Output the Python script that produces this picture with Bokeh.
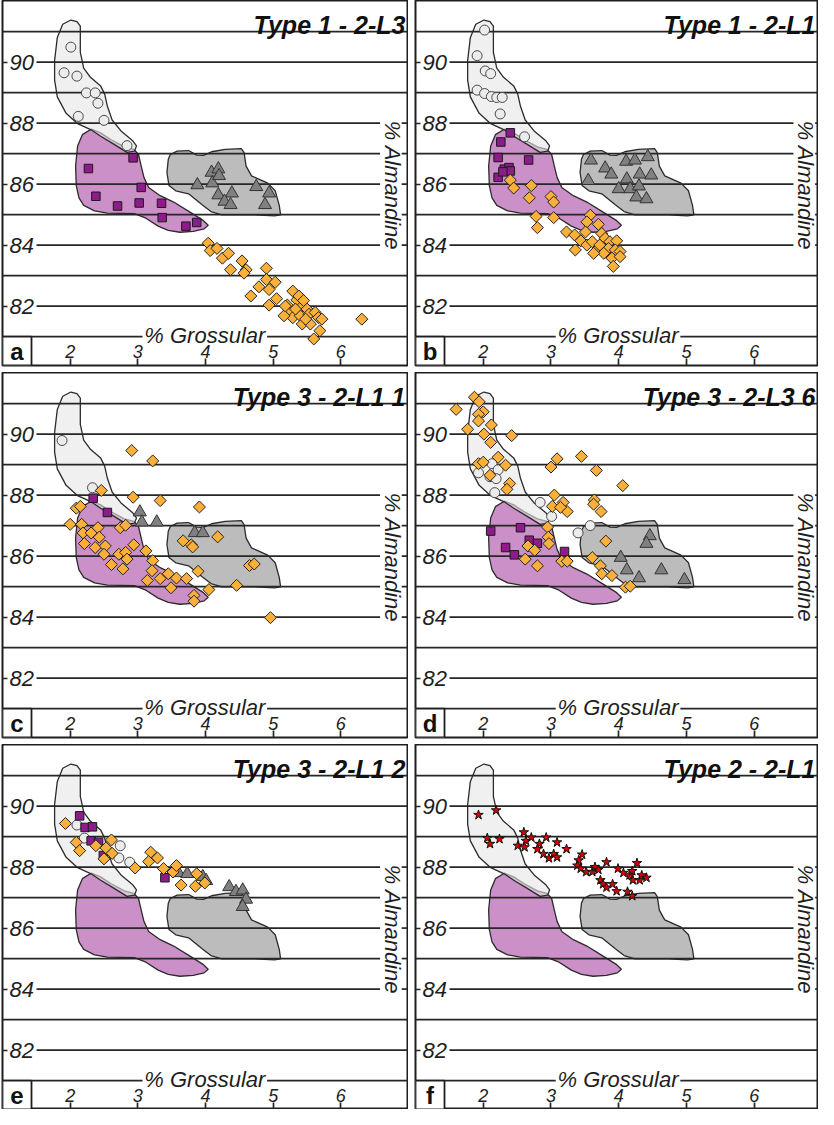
import numpy as np
from bokeh.plotting import figure
from bokeh.models import LinearAxis, FixedTicker, Range1d
from bokeh.layouts import column, row
from bokeh.core.properties import value
from bokeh.embed import file_html
from bokeh.resources import INLINE

FONT = "Liberation Sans"

# ---------------- axis / tick data ----------------
x_ticks = [2, 3, 4, 5, 6]
y_ticks = [82, 84, 86, 88, 90]
grid_levels = [81, 82, 83, 84, 85, 86, 87, 88, 89, 90, 91]
x_label = "% Grossular"
y_label = "% Almandine"

# ---------------- reference fields (same in every panel) ----------------
white_field = [(2.01, 91.38), (2.10, 91.33), (2.15, 91.18), (2.15, 90.32), (2.20, 89.80),
               (2.30, 89.50), (2.45, 89.22), (2.51, 88.95), (2.55, 88.55), (2.62, 88.10),
               (2.76, 87.72), (2.92, 87.43), (2.98, 87.25), (2.95, 87.08), (2.84, 87.04),
               (2.65, 87.30), (2.45, 87.57), (2.31, 87.78), (2.11, 87.98), (1.94, 88.32),
               (1.81, 88.86), (1.77, 89.41), (1.77, 90.05), (1.81, 90.81), (1.89, 91.24)]
purple_field = [(2.31, 87.80), (2.18, 87.62), (2.11, 87.25), (2.08, 86.60), (2.09, 85.95),
                (2.13, 85.55), (2.20, 85.30), (2.36, 85.12), (2.55, 85.05), (2.95, 85.03),
                (3.12, 84.88), (3.30, 84.62), (3.45, 84.48), (3.62, 84.42), (3.82, 84.45),
                (3.98, 84.53), (4.04, 84.65), (3.97, 84.80), (3.77, 85.08), (3.53, 85.41),
                (3.33, 85.62), (3.16, 85.89), (3.09, 86.22), (3.05, 86.59), (3.01, 86.97),
                (2.94, 87.14), (2.80, 87.22), (2.60, 87.46), (2.45, 87.68)]
gray_field = [(3.48, 86.97), (3.58, 87.08), (3.75, 87.10), (3.87, 86.95), (3.97, 86.94),
              (4.09, 87.06), (4.29, 87.14), (4.53, 87.16), (4.57, 87.03), (4.60, 86.59),
              (4.68, 86.27), (4.92, 86.03), (5.03, 85.78), (5.09, 85.30), (5.11, 84.99),
              (5.02, 84.96), (4.72, 84.99), (4.24, 84.99), (4.08, 85.10), (3.95, 85.32),
              (3.75, 85.68), (3.56, 85.78), (3.46, 85.95), (3.43, 86.38), (3.45, 86.81)]

# ---------------- panel a : Type 1 - 2-L3 ----------------
a_circles = [(2.01, 90.49), (1.91, 89.65), (2.10, 89.54), (2.24, 88.99), (2.37, 88.99),
             (2.41, 88.65), (2.12, 88.22), (2.50, 88.09), (2.84, 87.26)]
a_squares = [(2.27, 86.51), (2.93, 86.86), (3.05, 85.89), (2.38, 85.60), (2.70, 85.28),
             (3.02, 85.38), (3.35, 85.37), (3.36, 84.90), (3.71, 84.62), (3.87, 84.74)]
a_triangles = [(4.09, 86.38), (4.19, 86.49), (3.88, 85.97), (4.10, 86.03), (4.20, 86.27),
               (4.19, 85.64), (4.39, 85.70), (4.28, 85.43), (4.37, 85.32), (4.75, 85.91),
               (4.94, 85.70), (4.88, 85.32)]
a_diamonds = [(4.04, 84.06), (4.07, 83.82), (4.17, 83.89), (4.25, 83.57), (4.34, 83.73),
              (4.37, 83.19), (4.54, 83.48), (4.60, 83.19), (4.57, 83.08), (4.90, 83.24),
              (4.79, 82.63), (4.90, 82.87), (5.03, 82.78), (4.94, 82.54), (4.67, 82.33),
              (4.94, 82.03), (5.05, 82.24), (5.21, 82.03), (5.29, 82.49), (5.35, 82.20),
              (5.23, 81.79), (5.43, 82.00), (5.50, 81.90), (5.29, 81.62), (5.40, 81.68),
              (5.53, 81.73), (5.62, 81.79), (5.67, 81.62), (5.72, 81.57), (5.43, 81.41),
              (5.55, 81.41), (5.16, 81.68), (5.69, 81.19), (5.60, 80.92), (5.48, 81.57),
              (5.33, 81.90), (5.18, 82.00), (5.38, 82.33), (5.45, 82.18), (6.31, 81.57)]

# ---------------- panel b : Type 1 - 2-L1 ----------------
b_circles = [(2.02, 91.05), (1.91, 90.21), (2.03, 89.71), (2.11, 89.62), (1.91, 89.08),
             (2.02, 88.97), (2.12, 88.87), (2.20, 88.84), (2.28, 88.84), (2.25, 88.30),
             (2.61, 87.55)]
b_squares = [(2.40, 87.68), (2.26, 87.38), (2.22, 86.87), (2.67, 86.79), (2.31, 86.49),
             (2.38, 86.54), (2.40, 86.43), (2.22, 86.22), (2.29, 86.40)]
b_triangles = [(3.59, 86.78), (3.80, 86.52), (3.89, 86.32), (4.11, 86.74), (4.24, 86.78),
               (4.43, 86.89), (3.55, 86.11), (4.12, 86.16), (4.31, 86.32), (4.48, 86.29),
               (4.00, 85.84), (4.17, 85.84), (4.30, 85.93), (4.26, 85.57), (4.41, 85.51)]
b_diamonds = [(2.40, 86.13), (2.45, 85.87), (2.71, 85.95), (2.68, 85.55), (3.00, 85.59),
              (3.04, 85.41), (2.78, 84.94), (3.04, 84.90), (2.80, 84.57), (3.23, 84.43),
              (3.35, 84.33), (3.58, 84.98), (3.53, 84.76), (3.70, 84.68), (3.51, 84.43),
              (3.44, 84.14), (3.75, 84.38), (3.80, 84.22), (3.36, 83.84), (3.53, 84.00),
              (3.61, 84.11), (3.68, 83.84), (3.87, 84.11), (3.97, 84.14), (3.85, 83.89),
              (3.95, 83.84), (4.02, 83.79), (3.90, 83.57), (3.92, 83.30), (4.02, 83.62),
              (3.78, 83.73), (3.63, 83.73), (3.72, 84.00)]

# ---------------- panel c : Type 3 - 2-L1 1 ----------------
c_circles = [(1.88, 89.79), (2.33, 88.24)]
c_squares = [(2.34, 87.90), (2.55, 87.43)]
c_triangles = [(3.03, 87.44), (3.06, 87.11), (3.28, 87.11), (3.84, 86.76), (3.96, 86.76)]
c_diamonds = [(2.91, 89.46), (3.22, 89.12), (2.46, 88.15), (2.93, 87.93), (3.33, 87.82),
              (3.91, 87.61), (2.09, 87.57), (2.15, 87.63), (2.00, 87.04), (2.17, 87.04),
              (2.19, 86.76), (2.31, 86.76), (2.41, 86.93), (2.74, 86.93), (2.82, 87.01),
              (2.21, 86.41), (2.37, 86.28), (2.52, 86.33), (2.50, 86.06), (2.72, 86.06),
              (2.82, 86.12), (2.94, 86.37), (2.84, 85.90), (2.61, 85.72), (2.78, 85.58),
              (3.12, 86.17), (3.22, 85.85), (3.21, 85.52), (3.14, 85.20), (3.33, 85.26),
              (3.45, 85.42), (3.57, 85.28), (3.72, 85.26), (3.49, 84.96), (3.83, 84.71),
              (3.83, 84.52), (3.89, 85.50), (4.05, 84.90), (4.46, 85.04), (4.18, 86.63),
              (3.67, 86.50), (3.79, 86.37), (3.81, 86.30), (4.65, 85.69), (4.72, 85.74),
              (4.96, 83.98), (2.43, 86.62)]

# ---------------- panel d : Type 3 - 2-L3 6 ----------------
d_circles = [(1.93, 88.73), (2.13, 89.03), (2.22, 88.83), (2.10, 88.60), (2.19, 88.54),
             (2.17, 88.08), (2.84, 87.76), (3.01, 87.30), (3.40, 86.76), (3.58, 87.00)]
d_squares = [(2.11, 86.82), (2.55, 86.93), (2.33, 86.28), (2.46, 86.04), (2.68, 86.52),
             (2.80, 86.42), (3.20, 86.15)]
d_triangles = [(4.46, 86.66), (4.41, 86.41), (4.03, 85.95), (4.12, 85.54), (4.30, 85.28),
               (4.63, 85.54), (4.97, 85.22)]
d_diamonds = [(1.60, 90.81), (1.87, 91.21), (1.94, 91.06), (2.00, 90.73), (1.93, 90.65),
              (1.93, 90.43), (1.77, 90.16), (2.12, 90.30), (2.01, 90.00), (2.11, 89.73),
              (2.42, 89.95), (1.93, 89.03), (2.00, 89.08), (2.22, 89.24), (2.33, 88.98),
              (2.10, 88.65), (2.39, 88.38), (2.35, 88.19), (3.09, 89.19), (3.00, 88.92),
              (3.45, 89.27), (3.67, 88.81), (4.06, 88.31), (3.05, 88.00), (3.02, 87.63),
              (3.18, 87.76), (3.24, 87.46), (3.14, 87.60), (3.64, 87.84), (3.63, 87.70),
              (3.74, 87.46), (2.95, 86.95), (2.96, 86.62), (2.97, 86.41), (3.81, 86.49),
              (2.66, 86.33), (2.76, 86.19), (2.62, 85.90), (2.80, 85.68), (3.16, 85.83),
              (3.24, 85.83), (3.61, 85.95), (3.73, 85.68), (3.75, 85.42), (3.90, 85.36),
              (4.10, 84.98), (4.17, 85.01)]

# ---------------- panel e : Type 3 - 2-L1 2 ----------------
e_circles = [(2.10, 89.38), (2.21, 88.95), (2.74, 88.70), (2.72, 88.30), (2.88, 88.16)]
e_squares = [(2.14, 89.68), (2.22, 89.30), (2.33, 89.32), (2.31, 88.86), (2.42, 88.81),
             (2.49, 88.38), (3.40, 87.65)]
e_triangles = [(3.60, 87.81), (3.73, 87.78), (3.96, 87.68), (4.01, 87.55), (4.35, 87.35),
               (4.45, 87.19), (4.55, 87.24), (4.60, 86.94), (4.55, 86.70)]
e_diamonds = [(1.93, 89.43), (2.09, 88.81), (2.14, 88.54), (2.38, 88.70), (2.61, 88.89),
              (2.53, 88.63), (2.62, 88.45), (2.50, 88.27), (2.96, 87.97), (3.19, 88.49),
              (3.29, 88.30), (3.16, 88.18), (3.38, 87.95), (3.52, 87.84), (3.57, 88.05),
              (3.87, 87.78), (3.64, 87.41), (3.85, 87.37), (3.99, 87.48)]

# ---------------- panel f : Type 2 - 2-L1 ----------------
f_stars = [(1.93, 89.71), (2.19, 89.86), (2.06, 88.95), (2.10, 88.76), (2.24, 88.92),
           (2.60, 89.14), (2.63, 88.86), (2.51, 88.70), (2.71, 88.97), (2.61, 88.65),
           (2.93, 88.97), (3.09, 88.81), (2.83, 88.76), (2.80, 88.59), (2.89, 88.43),
           (2.97, 88.29), (3.04, 88.43), (3.09, 88.32), (3.23, 88.59), (3.46, 88.41),
           (3.41, 88.22), (3.39, 88.05), (3.44, 87.95), (3.52, 87.84), (3.61, 87.84),
           (3.65, 88.00), (3.70, 87.91), (3.82, 88.16), (3.73, 87.57), (3.77, 87.44),
           (3.82, 87.33), (3.91, 87.44), (3.97, 87.21), (3.99, 87.95), (4.07, 87.81),
           (4.16, 87.73), (4.20, 87.87), (4.27, 88.13), (4.21, 87.57), (4.31, 87.57),
           (4.34, 87.73), (4.41, 87.65), (4.13, 87.19), (4.20, 87.05)]

panels = [
    ("a", "Type 1 - 2-L3", dict(circle=a_circles, square=a_squares, triangle=a_triangles, diamond=a_diamonds)),
    ("b", "Type 1 - 2-L1", dict(circle=b_circles, square=b_squares, triangle=b_triangles, diamond=b_diamonds)),
    ("c", "Type 3 - 2-L1 1", dict(circle=c_circles, square=c_squares, triangle=c_triangles, diamond=c_diamonds)),
    ("d", "Type 3 - 2-L3 6", dict(circle=d_circles, square=d_squares, triangle=d_triangles, diamond=d_diamonds)),
    ("e", "Type 3 - 2-L1 2", dict(circle=e_circles, square=e_squares, triangle=e_triangles, diamond=e_diamonds)),
    ("f", "Type 2 - 2-L1", dict(star=f_stars)),
]

# ---------------- styling ----------------
X_MIN = 1.0
X_MAX = [7.0, 6.95]
FRAME_W = [406, 403]
BORDER_L = [2, 7]
FRAME_H = 365
Y_MIN, Y_MAX = 80.05, 92.02
LINE_C = "#262626"

marker_styles = {
    "circle": dict(marker="circle", size=10, fill_color="#ececec", line_color="#4a4a4a", line_width=1),
    "square": dict(marker="square", size=8.5, fill_color="#8e1b8c", line_color="#1a1a1a", line_width=1),
    "triangle": dict(marker="triangle", size=13, fill_color="#808080", line_color="#333333", line_width=1),
    "diamond": dict(marker="square", size=8.5, angle=np.pi / 4, fill_color="#fbb03b", line_color="#222222", line_width=1),
    "star": dict(marker="star", size=10, fill_color="#d80000", line_color="#111111", line_width=1),
}


def unzip(pts):
    return [p[0] for p in pts], [p[1] for p in pts]


def make_panel(letter, title, series, col, row_i):
    x_max = X_MAX[col]
    fw = FRAME_W[col]
    bl = BORDER_L[col]
    bb = 7 if row_i < 2 else 0
    ppu_x = fw / (x_max - X_MIN)
    ppu_y = FRAME_H / (Y_MAX - Y_MIN)

    p = figure(width=fw + bl, height=FRAME_H + bb,
               x_range=Range1d(X_MIN, x_max), y_range=Range1d(Y_MIN, Y_MAX),
               output_backend="svg", toolbar_location=None,
               x_axis_location=None, y_axis_location=None,
               min_border_left=bl, min_border_right=0, min_border_top=0, min_border_bottom=bb)
    p.grid.visible = False
    p.background_fill_color = "white"
    p.border_fill_color = "white"
    p.outline_line_color = "#1e1e1e"
    p.outline_line_width = 2

    # fields
    for pts, fc, fa in ((purple_field, "#cb90c8", 1.0), (gray_field, "#bcbcbc", 1.0), (white_field, "#e6e6e6", 0.6)):
        xs, ys = unzip(pts)
        p.patch(xs, ys, fill_color=fc, fill_alpha=fa, line_color="#2b2b2b", line_width=1.3)

    # horizontal rules (with gaps for the labels)
    lab_end = X_MIN + 34 / ppu_x
    alm_x = 6.76
    alm_lo, alm_hi = 6.58, 6.90
    gro_x = 3.99
    gro_lo, gro_hi = 3.07, 4.91
    x0, x1, y0 = [], [], []
    for lv in grid_levels:
        start = lab_end if lv in y_ticks else X_MIN
        if lv == 81:
            pieces = [(start, gro_lo), (gro_hi, x_max)]
        elif 84 <= lv <= 88:
            pieces = [(start, alm_lo), (alm_hi, x_max)]
        else:
            pieces = [(start, x_max)]
        for a, b in pieces:
            x0.append(a)
            x1.append(b)
            y0.append(lv)
    p.segment(x0=x0, y0=y0, x1=x1, y1=y0, line_color=LINE_C, line_width=1.7)

    # markers
    for kind in ("circle", "square", "triangle", "diamond", "star"):
        if kind in series:
            xs, ys = unzip(series[kind])
            p.scatter(xs, ys, **marker_styles[kind])

    # axes drawn inside the frame
    yax = LinearAxis(fixed_location=X_MIN, ticker=FixedTicker(ticks=y_ticks, minor_ticks=[]))
    yax.axis_line_color = None
    yax.major_tick_out = 5
    yax.major_tick_in = 0
    yax.major_tick_line_color = LINE_C
    yax.major_tick_line_width = 1.7
    yax.major_label_standoff = 2
    yax.major_label_text_font = FONT
    yax.major_label_text_font_style = "italic"
    yax.major_label_text_font_size = "22px"
    yax.major_label_text_color = "#1e1e1e"
    p.add_layout(yax, "right")

    xax = LinearAxis(fixed_location=Y_MIN, ticker=FixedTicker(ticks=x_ticks, minor_ticks=[]))
    xax.axis_line_color = None
    xax.major_tick_out = 7
    xax.major_tick_in = 0
    xax.major_tick_line_color = LINE_C
    xax.major_tick_line_width = 1.7
    xax.major_label_standoff = 1
    xax.major_label_text_font = FONT
    xax.major_label_text_font_style = "italic"
    xax.major_label_text_font_size = "18px"
    xax.major_label_text_color = "#1e1e1e"
    p.add_layout(xax, "above")

    # axis titles
    p.text(x=[gro_x], y=[81 + 1.5 / ppu_y], text=[x_label], text_align="center",
           text_baseline="alphabetic", text_font=value(FONT), text_font_style="italic",
           text_font_size="22px", text_color="#1e1e1e")
    p.text(x=[alm_x], y=[85.95], text=[y_label], angle=-np.pi / 2, text_align="center",
           text_baseline="middle", text_font=value(FONT), text_font_style="italic",
           text_font_size="22px", text_color="#1e1e1e")

    # panel title
    p.text(x=[x_max - 3 / ppu_x], y=[Y_MAX - 24 / ppu_y], text=[title], text_align="right",
           text_baseline="alphabetic", text_font=value(FONT), text_font_style="bold italic",
           text_font_size="25px", text_color="#111111")

    # panel letter box
    box_r = X_MIN + 29 / ppu_x
    p.quad(left=[X_MIN], right=[box_r], bottom=[Y_MIN], top=[81], fill_color="white",
           line_color="#1e1e1e", line_width=1.8)
    p.text(x=[(X_MIN + box_r) / 2], y=[(Y_MIN + 81) / 2], text=[letter], text_align="center",
           text_baseline="middle", text_font=value(FONT), text_font_style="bold",
           text_font_size="24px", text_color="#111111")
    return p


figs = []
for i, (letter, title, series) in enumerate(panels):
    figs.append(make_panel(letter, title, series, i % 2, i // 2))

layout = column(row(figs[0], figs[1]), row(figs[2], figs[3]), row(figs[4], figs[5]))

with open("out.html", "w") as fh:
    fh.write(file_html(layout, INLINE))
